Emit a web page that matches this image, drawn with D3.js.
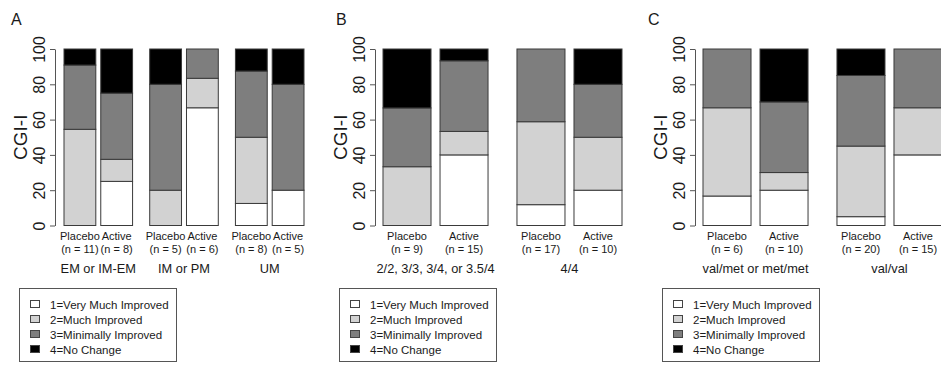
<!DOCTYPE html>
<html>
<head>
<meta charset="utf-8">
<script src="https://cdn.jsdelivr.net/npm/d3@7/dist/d3.min.js"></script>
<style>
  body { margin: 0; background: #fff; }
  text { font-family: "Liberation Sans", Arial, sans-serif; fill: #1a1a1a; }
</style>
</head>
<body>
<svg width="941" height="365"></svg>
<script>
// data (percent of patients per CGI-I level, bottom to top)
var levels = ['1=Very Much Improved', '2=Much Improved', '3=Minimally Improved', '4=No Change'];
var tickValues = [0, 20, 40, 60, 80, 100];
var arms = ['Placebo', 'Active'];

var groupsA = ['EM or IM-EM', 'IM or PM', 'UM'];
var nA = [[11, 8], [5, 6], [8, 5]];
var pctA = [
  [[0, 54.5, 36.4, 9.1], [25, 12.5, 37.5, 25]],
  [[0, 20, 60, 20], [66.7, 16.7, 16.6, 0]],
  [[12.5, 37.5, 37.5, 12.5], [20, 0, 60, 20]]
];

var groupsB = ['2/2, 3/3, 3/4, or 3.5/4', '4/4'];
var nB = [[9, 15], [17, 10]];
var pctB = [
  [[0, 33.3, 33.3, 33.4], [40, 13.3, 40, 6.7]],
  [[11.8, 47, 41.2, 0], [20, 30, 30, 20]]
];

var groupsC = ['val/met or met/met', 'val/val'];
var nC = [[6, 10], [20, 15]];
var pctC = [
  [[16.7, 50, 33.3, 0], [20, 10, 40, 30]],
  [[5, 40, 40, 15], [40, 26.7, 33.3, 0]]
];

var fills = ['#ffffff', '#d2d2d2', '#7e7e7e', '#000000'];

var svg = d3.select('svg');

// y scale shared by all panels
var yScale = d3.scaleLinear().domain([0, 100]).range([225.5, 49]);

var panels = [
  {letter: 'A', letterX: 11, axisX: 55, x0: 64, x1: 304, padOuter: 0.2, padInner: 0.135, legendX: 19, groups: groupsA, n: nA, pct: pctA},
  {letter: 'B', letterX: 336, axisX: 375, x0: 383, x1: 622, padOuter: 0.216, padInner: 0.158, legendX: 339, groups: groupsB, n: nB, pct: pctB},
  {letter: 'C', letterX: 648, axisX: 695, x0: 703, x1: 942, padOuter: 0.216, padInner: 0.158, legendX: 662, groups: groupsC, n: nC, pct: pctC}
];

panels.forEach(function(p) {
  var g = svg.append('g');

  g.append('text')
    .attr('x', p.letterX).attr('y', 25)
    .style('font-size', '16px')
    .text(p.letter);

  var xGroup = d3.scaleBand().domain(p.groups).range([p.x0, p.x1])
    .paddingInner(p.padOuter).paddingOuter(0);
  var xArm = d3.scaleBand().domain(arms).range([0, xGroup.bandwidth()])
    .paddingInner(p.padInner).paddingOuter(0);

  // y axis
  var axisG = g.append('g')
    .attr('transform', 'translate(' + [p.axisX, 0] + ')')
    .call(d3.axisLeft(yScale).tickValues(tickValues).tickSize(5).tickSizeOuter(0));
  axisG.select('.domain').attr('stroke', '#555');
  axisG.selectAll('.tick line').attr('stroke', '#555');
  axisG.selectAll('.tick text')
    .attr('x', null).attr('dy', null)
    .attr('text-anchor', 'middle')
    .attr('transform', 'translate(-10,0) rotate(-90)')
    .style('font-size', '16px')
    .style('font-family', '"Liberation Sans", Arial, sans-serif')
    .attr('fill', '#1a1a1a');

  g.append('text')
    .attr('transform', 'translate(' + [p.axisX - 28, (yScale(0) + yScale(100)) / 2] + ') rotate(-90)')
    .attr('text-anchor', 'middle')
    .style('font-size', '19px')
    .text('CGI-I');

  p.groups.forEach(function(grp, gi) {
    arms.forEach(function(arm, ai) {
      var bx = xGroup(grp) + xArm(arm);
      var bw = xArm.bandwidth();
      var vals = p.pct[gi][ai];
      var segs = [];
      var acc = 0;
      vals.forEach(function(v, li) {
        segs.push({lo: acc, hi: acc + v, level: li});
        acc += v;
      });
      g.selectAll(null)
        .data(segs.filter(function(s) { return s.hi - s.lo > 0; }))
        .enter()
        .append('rect')
        .attr('x', bx)
        .attr('width', bw)
        .attr('y', function(s) { return yScale(Math.min(s.hi, 100)); })
        .attr('height', function(s) { return yScale(s.lo) - yScale(Math.min(s.hi, 100)); })
        .attr('fill', function(s) { return fills[s.level]; })
        .attr('stroke', '#3a3a3a')
        .attr('stroke-width', 1);

      g.append('text')
        .attr('x', bx + bw / 2).attr('y', 240)
        .attr('text-anchor', 'middle')
        .style('font-size', '11px')
        .text(arm);
      g.append('text')
        .attr('x', bx + bw / 2).attr('y', 253)
        .attr('text-anchor', 'middle')
        .style('font-size', '11px')
        .text('(n = ' + p.n[gi][ai] + ')');
    });
    g.append('text')
      .attr('x', xGroup(grp) + xGroup.bandwidth() / 2).attr('y', 273)
      .attr('text-anchor', 'middle')
      .style('font-size', '12.8px')
      .text(grp);
  });

  // legend
  var leg = g.append('g').attr('transform', 'translate(' + [p.legendX, 288] + ')');
  leg.append('rect')
    .attr('x', 0.5).attr('y', 0.5)
    .attr('width', 157).attr('height', 73)
    .attr('fill', 'none')
    .attr('stroke', '#555');
  var items = leg.selectAll('.item')
    .data(levels)
    .enter().append('g')
    .attr('class', 'item')
    .attr('transform', function(d, i) { return 'translate(' + [0, 16 + i * 15] + ')'; });
  items.append('rect')
    .attr('x', 11.5).attr('y', -3.5)
    .attr('width', 9).attr('height', 7)
    .attr('fill', function(d, i) { return fills[i]; })
    .attr('stroke', '#444');
  items.append('text')
    .attr('x', 31).attr('y', 4.5)
    .style('font-size', '11.5px')
    .text(function(d) { return d; });
});
</script>
</body>
</html>
